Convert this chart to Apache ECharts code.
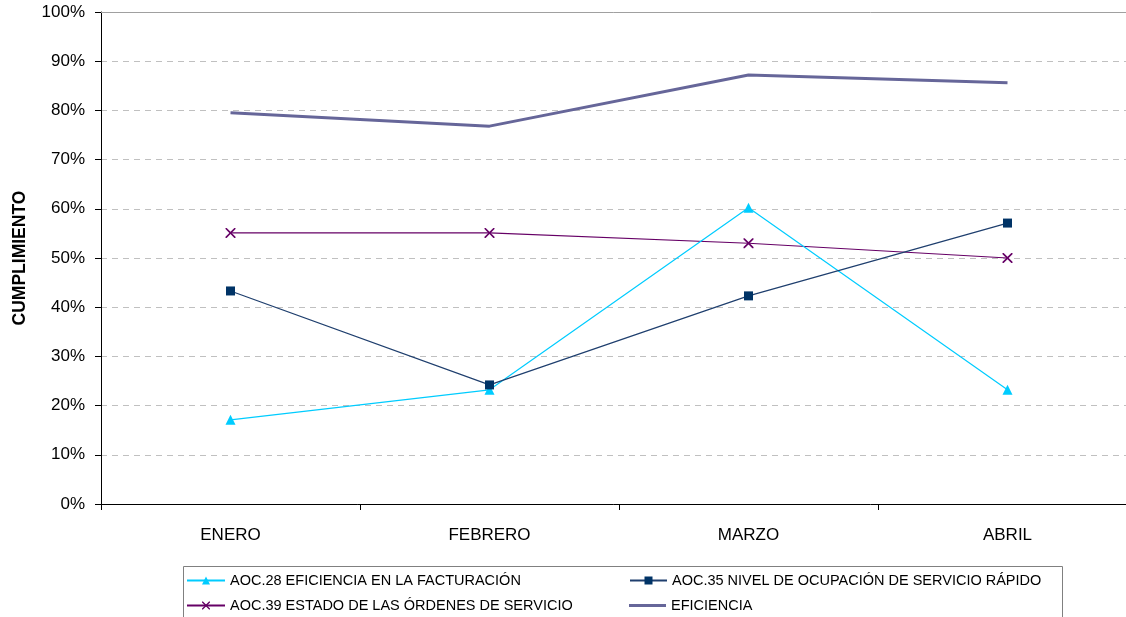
<!DOCTYPE html>
<html>
<head>
<meta charset="utf-8">
<script src="https://cdn.jsdelivr.net/npm/echarts@6/dist/echarts.min.js"></script>
<style>
  html, body { margin: 0; padding: 0; background: #fff; overflow: hidden; }
  #chart { width: 1126px; height: 617px; }
</style>
</head>
<body>
<div id="chart"></div>
<script>
// Monthly compliance indicators
const months = ['ENERO', 'FEBRERO', 'MARZO', 'ABRIL'];
const yTicks = [0, 10, 20, 30, 40, 50, 60, 70, 80, 90, 100];

const aoc28Name = 'AOC.28 EFICIENCIA EN LA FACTURACIÓN';
const aoc35Name = 'AOC.35 NIVEL DE OCUPACIÓN DE SERVICIO RÁPIDO';
const aoc39Name = 'AOC.39 ESTADO DE LAS ÓRDENES DE SERVICIO';
const eficienciaName = 'EFICIENCIA';

const aoc28 = [17.1, 23.2, 60.2, 23.2];
const aoc35 = [43.3, 24.2, 42.3, 57.1];
const aoc39 = [55.1, 55.1, 53.0, 50.0];
const eficiencia = [79.5, 76.8, 87.2, 85.6];

const crossPath = 'path://M0,0L1.2,0L5,3.8L8.8,0L10,0L10,1.2L6.2,5L10,8.8L10,10L8.8,10L5,6.2L1.2,10L0,10L0,8.8L3.8,5L0,1.2Z';
const thickLineIcon = 'path://M0,3.5L40,3.5L40,6.5L0,6.5Z';
const font = 'Liberation Sans, Arial, sans-serif';

const chart = echarts.init(document.getElementById('chart'), null, { renderer: 'canvas' });

const legendText = { fontFamily: font, fontSize: 14.5, color: '#000' };
function legendItem(entry, left, top, iconWidth) {
  return {
    orient: 'horizontal',
    left: left,
    top: top,
    padding: 0,
    itemWidth: iconWidth,
    itemHeight: 10,
    textStyle: legendText,
    data: [entry]
  };
}

chart.setOption({
  animation: false,
  backgroundColor: '#fff',
  // plot area runs slightly past the right edge of the canvas
  grid: { left: 101, top: 12, width: 1036, height: 492, containLabel: false, outerBoundsMode: 'none' },
  xAxis: [
    {
      type: 'category',
      data: months,
      boundaryGap: true,
      axisLine: { lineStyle: { color: '#000', width: 1 } },
      axisTick: { show: true, length: 6, lineStyle: { color: '#000' } },
      axisLabel: { margin: 23, fontFamily: font, fontSize: 17, color: '#000' },
      splitLine: { show: false }
    },
    {
      type: 'category',
      data: months,
      position: 'top',
      axisLine: { show: true, lineStyle: { color: '#a0a0a0', width: 1 } },
      axisTick: { show: false },
      axisLabel: { show: false },
      splitLine: { show: false }
    }
  ],
  yAxis: {
    type: 'value',
    min: yTicks[0],
    max: yTicks[yTicks.length - 1],
    interval: 10,
    name: 'CUMPLIMIENTO',
    nameLocation: 'middle',
    nameGap: 72,
    nameRotate: 90,
    nameTextStyle: { fontFamily: font, fontSize: 17.5, fontWeight: 'bold', color: '#000' },
    axisLine: { show: true, lineStyle: { color: '#000', width: 1 } },
    axisTick: { show: true, length: 6, lineStyle: { color: '#000' } },
    axisLabel: { margin: 16, fontFamily: font, fontSize: 17, color: '#000', formatter: '{value}%' },
    splitLine: { show: true, lineStyle: { color: '#c0c0c0', type: [6, 5], width: 1 } }
  },
  graphic: [
    {
      type: 'rect',
      shape: { x: 183.5, y: 566.5, width: 879, height: 60 },
      style: { fill: 'none', stroke: '#808080', lineWidth: 1 },
      silent: true,
      z: 1
    }
  ],
  legend: [
    legendItem(aoc28Name, 186, 573, 38),
    legendItem(aoc39Name, 186, 598, 38),
    legendItem(aoc35Name, 629, 573, 37),
    legendItem({ name: eficienciaName, icon: thickLineIcon }, 629, 598, 37)
  ],
  series: [
    {
      name: aoc28Name,
      type: 'line',
      data: aoc28,
      symbol: 'triangle',
      symbolSize: 10,
      color: '#00ccff',
      lineStyle: { color: '#00ccff', width: 1.2 },
      itemStyle: { color: '#00ccff' },
      z: 3
    },
    {
      name: aoc35Name,
      type: 'line',
      data: aoc35,
      symbol: 'rect',
      symbolSize: 9,
      color: '#003366',
      lineStyle: { color: '#1f3f6e', width: 1.2 },
      itemStyle: { color: '#003366' },
      z: 4
    },
    {
      name: aoc39Name,
      type: 'line',
      data: aoc39,
      symbol: crossPath,
      symbolSize: 10,
      color: '#660066',
      lineStyle: { color: '#660066', width: 1.2 },
      itemStyle: { color: '#660066' },
      z: 2
    },
    {
      name: eficienciaName,
      type: 'line',
      data: eficiencia,
      symbol: 'none',
      color: '#666699',
      lineStyle: { color: '#666699', width: 3 },
      z: 2
    }
  ]
});
</script>
</body>
</html>
